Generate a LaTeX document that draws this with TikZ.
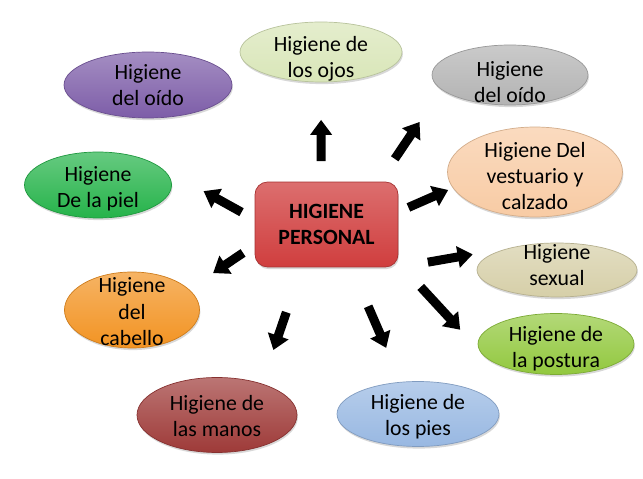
\documentclass[tikz,border=0pt]{standalone}
\usepackage{fontspec}
\setmainfont{Carlito}
\usetikzlibrary{shapes.geometric,arrows.meta,shadows}

\definecolor{ojosc}{HTML}{D9E6B8}
\definecolor{moradoc}{HTML}{7D5DA8}
\definecolor{grisc}{HTML}{B3B3B3}
\definecolor{vestc}{HTML}{F8CBA4}
\definecolor{pielc}{HTML}{25B34A}
\definecolor{sexc}{HTML}{D6CFA8}
\definecolor{postc}{HTML}{92C83E}
\definecolor{cabc}{HTML}{F29322}
\definecolor{manosc}{HTML}{9E3A38}
\definecolor{piesc}{HTML}{98B8E2}
\definecolor{hpc}{HTML}{D03E3E}

\begin{document}
\begin{tikzpicture}[x=0.02cm, y=-0.02cm, every node/.style={font=\fontsize{12.4}{15}\selectfont},
  bub/.style={ellipse, draw=#1!85!black, line width=0.4pt, top color=#1!70!white, bottom color=#1, inner sep=0pt,
    drop shadow={opacity=0.3, shadow xshift=0.5pt, shadow yshift=-1.2pt}},
  txt/.style={align=center, inner sep=0pt},
  bigarrow/.style={line width=0.18cm, -{Triangle[width=0.42cm,length=0.3cm]}}]
\useasboundingbox[fill=white] (0,0) rectangle (643,479);

% centro
\node[draw=hpc!80!black, rounded corners=0.25cm, top color=hpc!75!white, bottom color=hpc, minimum width=2.86cm, minimum height=1.7cm,
  drop shadow={opacity=0.3, shadow xshift=0.5pt, shadow yshift=-1.2pt}, align=center, font=\fontsize{12.4}{15}\selectfont\bfseries] (hp) at (326.5,224.5) {\raisebox{-2pt}{HIGIENE}\\\raisebox{-2pt}{PERSONAL}};

% elipses
\node[bub=ojosc, minimum width=3.24cm, minimum height=1.2cm] (ojos) at (321,52) {};
\node[bub=moradoc, minimum width=3.36cm, minimum height=1.32cm] (oidoA) at (148,85) {};
\node[bub=grisc, minimum width=3.12cm, minimum height=1.2cm] (oidoB) at (510,75) {};
\node[bub=vestc, minimum width=3.5cm, minimum height=1.8cm] (vest) at (535,172) {};
\node[bub=pielc, minimum width=2.94cm, minimum height=1.32cm] (piel) at (98,185) {};
\node[bub=sexc, minimum width=3.2cm, minimum height=1.08cm] (sexual) at (557,270) {};
\node[bub=postc, minimum width=3.12cm, minimum height=1.22cm] (postura) at (556,344) {};
\node[bub=cabc, minimum width=2.7cm, minimum height=1.52cm] (cabello) at (132,310) {};
\node[bub=manosc, minimum width=3.2cm, minimum height=1.5cm] (manos) at (217,415) {};
\node[bub=piesc, minimum width=3.24cm, minimum height=1.3cm] (pies) at (418,414) {};

% textos
\node[txt, yshift=-4pt] (ojos-t) at (ojos) {Higiene de\\los ojos};
\node[txt] (oidoA-t) at (oidoA) {Higiene\\del oído};
\node[txt, yshift=-4.2pt] (oidoB-t) at (oidoB) {Higiene\\del oído};
\node[txt, yshift=-2.3pt] (vest-t) at (vest) {Higiene Del\\vestuario y\\calzado};
\node[txt, yshift=-2pt] (piel-t) at (piel) {Higiene\\De la piel};
\node[txt, yshift=2.8pt] (sexual-t) at (sexual) {Higiene\\sexual};
\node[txt, yshift=-2.5pt] (postura-t) at (postura) {Higiene de\\la postura};
\node[txt, yshift=-1.1pt] (cabello-t) at (cabello) {Higiene\\del\\cabello};
\node[txt, yshift=-0.6pt] (manos-t) at (manos) {Higiene de\\las manos};
\node[txt, yshift=-1.4pt] (pies-t) at (pies) {Higiene de\\los pies};

% flechas
\draw[bigarrow, shorten <=0.41cm, shorten >=0.75cm] (hp.97) -- (ojos.south);
\draw[bigarrow, shorten <=0.55cm, shorten >=0.78cm] (hp.39) -- (oidoB.192);
\draw[bigarrow, shorten <=0.22cm, shorten >=0.1cm] (hp.10) -- (vest.191);
\draw[bigarrow, shorten <=0.3cm, shorten >=1.24cm] (hp.176) -- (piel.25);
\draw[bigarrow, shorten <=0.28cm, shorten >=0.58cm] (hp.196) -- (cabello.20);
\draw[bigarrow, shorten <=0.6cm, shorten >=0.75cm] (hp.south east) -- (sexual.155);
\draw[bigarrow, shorten <=0.66cm, shorten >=0.57cm] (hp.332) -- (postura.185);
\draw[bigarrow, shorten <=0.85cm, shorten >=0.74cm] (hp.300) -- (pies.118);
\draw[bigarrow, shorten <=0.95cm, shorten >=0.71cm] (hp.240) -- (manos.35);
\end{tikzpicture}
\end{document}
